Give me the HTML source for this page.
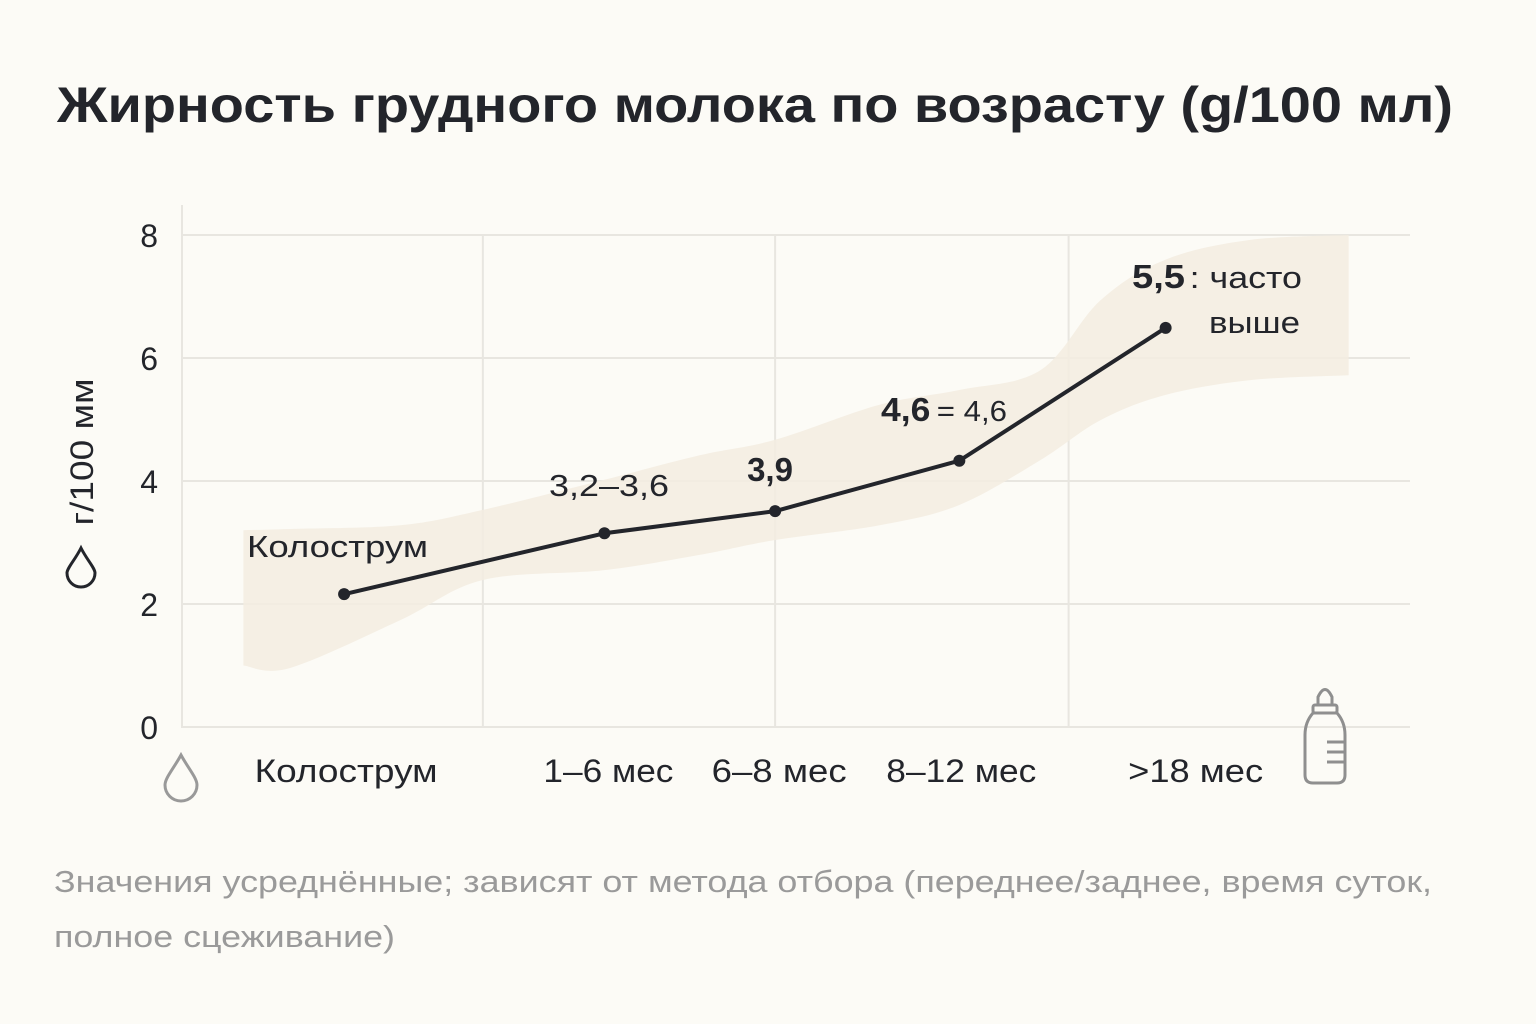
<!DOCTYPE html>
<html><head><meta charset="utf-8"><style>
html,body{margin:0;padding:0;background:#fcfbf6;}
svg{display:block;font-family:"Liberation Sans","DejaVu Sans",sans-serif;}
</style></head><body>
<svg id="chart" width="1536" height="1024" viewBox="0 0 1536 1024">
<rect width="1536" height="1024" fill="#fcfbf6"/>
<text x="57" y="122" font-size="50" font-weight="600" fill="#23252b" textLength="1396" lengthAdjust="spacingAndGlyphs">Жирность грудного молока по возрасту (g/100 мл)</text>
<g id="grid"></g>
<g id="band"></g>
<g id="series"></g>
<g id="labels">
<text x="247" y="557" font-size="31" fill="#23252b" textLength="181" lengthAdjust="spacingAndGlyphs">Колострум</text>
<text x="549" y="496" font-size="31" fill="#23252b" textLength="120" lengthAdjust="spacingAndGlyphs">3,2–3,6</text>
<text x="770" y="481" font-size="33" font-weight="bold" fill="#23252b" text-anchor="middle">3,9</text>
<text x="881" y="421" font-size="33" fill="#23252b" textLength="126" lengthAdjust="spacingAndGlyphs"><tspan font-weight="bold">4,6</tspan><tspan font-size="29" dx="6">= 4,6</tspan></text>
<text x="1132" y="288" font-size="33" fill="#23252b" textLength="170" lengthAdjust="spacingAndGlyphs"><tspan font-weight="bold">5,5</tspan><tspan font-size="31" dx="4">: часто</tspan></text>
<text x="1209" y="333" font-size="31" fill="#23252b" textLength="91" lengthAdjust="spacingAndGlyphs">выше</text>
</g>
<g transform="translate(93,452) rotate(-90)">
<text x="0" y="0" font-size="32" fill="#23252b" text-anchor="middle" textLength="147" lengthAdjust="spacingAndGlyphs">г/100 мм</text>
</g>
<path d="M81,548 C75,560 67,568 67,573 A14,14 0 0 0 95,573 C95,568 87,560 81,548 Z" fill="none" stroke="#23252b" stroke-width="3"/>
<path d="M181,755 C174,768 165,778 165,785 A16,16 0 0 0 197,785 C197,778 188,768 181,755 Z" fill="none" stroke="#999" stroke-width="3"/>
<g fill="none" stroke="#8f8f8f" stroke-width="3">
<path d="M1318,705 L1318,697 Q1325,682 1332,697 L1332,705"/>
<rect x="1313" y="705" width="24" height="8" rx="2"/>
<path d="M1313,713 Q1305,722 1305,735 L1305,775 Q1305,783 1313,783 L1337,783 Q1345,783 1345,775 L1345,735 Q1345,722 1337,713 Z"/>
<line x1="1327" y1="742" x2="1345" y2="742"/><line x1="1327" y1="752" x2="1345" y2="752"/><line x1="1327" y1="762" x2="1345" y2="762"/>
</g>
<text x="54" y="892" font-size="31" fill="#9a9a9a" textLength="1378" lengthAdjust="spacingAndGlyphs">Значения усреднённые; зависят от метода отбора (переднее/заднее, время суток,</text>
<text x="54" y="947" font-size="31" fill="#9a9a9a" textLength="341" lengthAdjust="spacingAndGlyphs">полное сцеживание)</text>
</svg>
<script>
const categories = ["Колострум","1–6 мес","6–8 мес","8–12 мес",">18 мес"];
const catPos = [13.2, 34.4, 48.3, 63.3, 80.1];
const values = [2.16, 3.15, 3.51, 4.33, 6.49];
const yTicks = [0, 2, 4, 6, 8];
const xGridPos = [24.5, 48.3, 72.2];
const bandX = [5, 8.8, 17.8, 24.5, 34.4, 42.2, 48.3, 56.8, 63.3, 69.9, 74.8, 80.1, 87, 95];
const bandUpper = [3.2, 3.22, 3.28, 3.53, 4.02, 4.42, 4.67, 5.24, 5.48, 5.8, 6.94, 7.6, 7.92, 8.0];
const bandLower = [1.0, 0.96, 1.74, 2.39, 2.55, 2.8, 3.04, 3.28, 3.61, 4.34, 4.99, 5.4, 5.64, 5.72];

const NS = "http://www.w3.org/2000/svg";
const x = v => 182 + v * 12.28;
const y = v => 727 - v * 61.5;
function mk(tag, attrs, parent){const e=document.createElementNS(NS,tag);for(const k in attrs)e.setAttribute(k,attrs[k]);parent.appendChild(e);return e;}
function smooth(pts){let d=`M${pts[0][0]},${pts[0][1]}`;for(let i=0;i<pts.length-1;i++){const p0=pts[i-1]||pts[i],p1=pts[i],p2=pts[i+1],p3=pts[i+2]||p2;d+=` C${p1[0]+(p2[0]-p0[0])/6},${p1[1]+(p2[1]-p0[1])/6} ${p2[0]-(p3[0]-p1[0])/6},${p2[1]-(p3[1]-p1[1])/6} ${p2[0]},${p2[1]}`;}return d;}

const grid=document.getElementById('grid');
yTicks.forEach((t,i)=>{
  const l=mk('line',{x1:182,x2:1410,y1:y(t),y2:y(t),stroke:'#e8e6e0','stroke-width':2},grid);
  
  
  const tx=mk('text',{x:158,y:y(t)+12,'font-size':32,fill:'#23252b','text-anchor':'end'},grid);
  tx.textContent=t;
  
  
});
const ax=mk('line',{x1:182,x2:182,y1:205,y2:728,stroke:'#e8e6e0','stroke-width':2},grid);


xGridPos.forEach(g=>{
  const l=mk('line',{x1:x(g),x2:x(g),y1:235,y2:727,stroke:'#e8e6e0','stroke-width':2},grid);
  
  
});
const catLabelShift=[2,4,4,2,30];
const catLabelW=[183,130,135,150,135];
categories.forEach((c,i)=>{
  const tx=mk('text',{x:x(catPos[i])+catLabelShift[i],y:782,'font-size':32,fill:'#23252b','text-anchor':'middle',textLength:catLabelW[i],lengthAdjust:'spacingAndGlyphs'},grid);
  tx.textContent=c;
  
  
});

const up=bandX.map((b,i)=>[x(b),y(bandUpper[i])]);
const lo=bandX.map((b,i)=>[x(b),y(bandLower[i])]).reverse();
let d=smooth(up)+" L"+lo[0][0]+","+lo[0][1]+smooth(lo).replace(/^M[^C]*/,' ')+" Z";
const bp=mk('path',{d:d,fill:'#f3ece0',opacity:0.85},document.getElementById('band'));



const s=document.getElementById('series');
const line=mk('polyline',{points:values.map((v,i)=>x(catPos[i])+','+y(v)).join(' '),fill:'none',stroke:'#23252b','stroke-width':4,'stroke-linejoin':'round'},s);


values.forEach((v,i)=>{
  const c=mk('circle',{cx:x(catPos[i]),cy:y(v),r:6,fill:'#23252b'},s);
  
  
});
</script>
</body></html>
